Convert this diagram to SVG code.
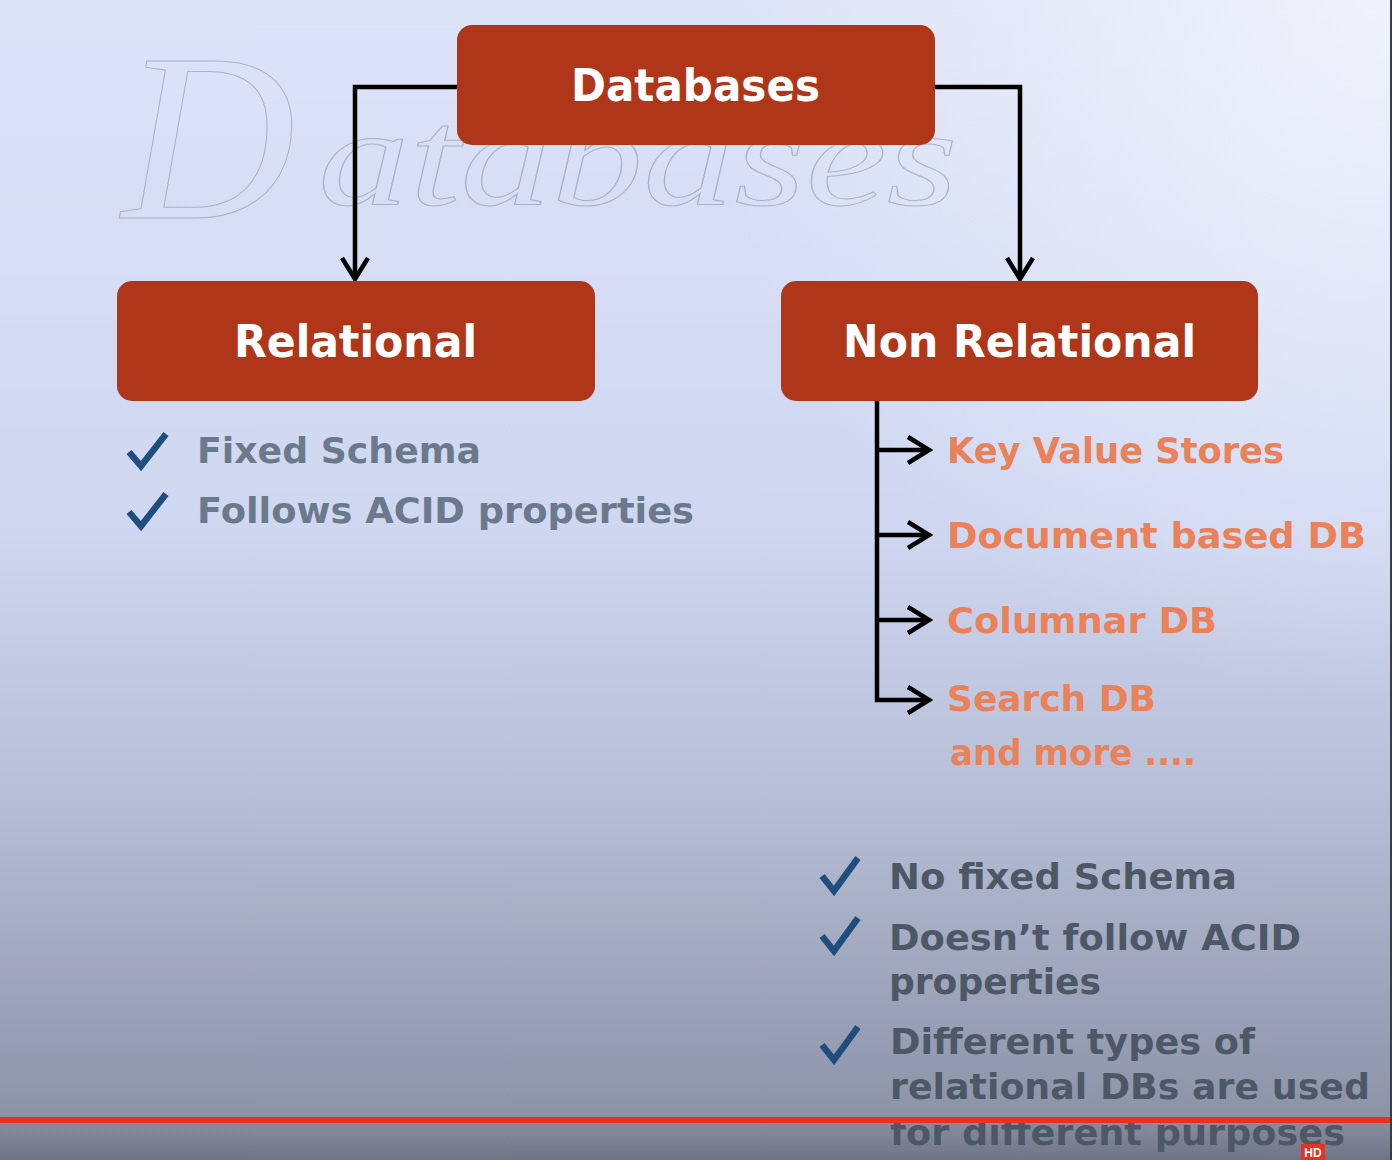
<svg xmlns="http://www.w3.org/2000/svg" width="1392" height="1160" viewBox="0 0 1392 1160">
  <defs>
    <linearGradient id="bg" x1="0" y1="0" x2="0" y2="1">
      <stop offset="0" stop-color="#dde3f7"/>
      <stop offset="0.45" stop-color="#cfd7f1"/>
      <stop offset="0.68" stop-color="#b8c0d8"/>
      <stop offset="0.96" stop-color="#8d94a8"/>
      <stop offset="1" stop-color="#757b8c"/>
    </linearGradient>
    <radialGradient id="glow" cx="1392" cy="0" r="700" gradientUnits="userSpaceOnUse">
      <stop offset="0" stop-color="#eef3fc" stop-opacity="0.95"/>
      <stop offset="1" stop-color="#eef3fc" stop-opacity="0"/>
    </radialGradient>
    <linearGradient id="foot" x1="0" y1="0" x2="0" y2="1">
      <stop offset="0" stop-color="#858b9d"/>
      <stop offset="1" stop-color="#6b7080"/>
    </linearGradient>
    <marker id="chev" viewBox="-26 -16 30 32" refX="0" refY="0" markerWidth="30" markerHeight="32" markerUnits="userSpaceOnUse" orient="auto">
      <path d="M-21,-13 L0,0 L-21,13" fill="none" stroke="#000" stroke-width="4.5"/>
    </marker>
    <style>
      .box { fill: #b0361a; }
      .title { font-family: "DejaVu Sans", "Liberation Sans", sans-serif; font-weight: bold; fill: #ffffff; font-size: 44px; }
      .item { font-family: "DejaVu Sans", "Liberation Sans", sans-serif; font-weight: bold; font-size: 35px; }
      .gray { fill: #6a7a8b; }
      .dark { fill: #4d5867; }
      .orange { fill: #ea8159; }
      .check { fill: none; stroke: #1f4e7e; stroke-width: 6.5; stroke-linejoin: miter; }
      .conn { fill: none; stroke: #000; stroke-width: 4.5; }
      .hand { font-family: "Liberation Serif", serif; font-style: italic; fill: none; stroke: #8a93a6; stroke-width: 1; opacity: 0.6; }
    </style>
  </defs>

  <rect x="0" y="0" width="1392" height="1160" fill="url(#bg)"/>
  <rect x="0" y="0" width="1392" height="1160" fill="url(#glow)"/>

  <!-- faint handwriting in background -->
  <g id="handwriting">
    <text class="hand" x="122" y="218" font-size="240">D</text>
    <text class="hand" x="318" y="205" font-size="140" textLength="640" lengthAdjust="spacingAndGlyphs">atabases</text>
  </g>

  <!-- connectors -->
  <g id="connectors">
    <path class="conn" d="M457,87 H355 V279" marker-end="url(#chev)"/>
    <path class="conn" d="M935,87 H1020 V279" marker-end="url(#chev)"/>
    <path class="conn" d="M877,401 V700 H929" marker-end="url(#chev)"/>
    <path class="conn" d="M877,450 H929" marker-end="url(#chev)"/>
    <path class="conn" d="M877,535 H929" marker-end="url(#chev)"/>
    <path class="conn" d="M877,620 H929" marker-end="url(#chev)"/>
  </g>

  <g id="node-databases">
    <rect class="box" x="457" y="25" width="478" height="120" rx="15"/>
    <text class="title" x="571" y="101" textLength="249" lengthAdjust="spacingAndGlyphs">Databases</text>
  </g>

  <g id="node-relational">
    <rect class="box" x="117" y="281" width="478" height="120" rx="15"/>
    <text class="title" x="234" y="357" textLength="243" lengthAdjust="spacingAndGlyphs">Relational</text>
  </g>

  <g id="node-nonrelational">
    <rect class="box" x="781" y="281" width="477" height="120" rx="15"/>
    <text class="title" x="843" y="357" textLength="353" lengthAdjust="spacingAndGlyphs">Non Relational</text>
  </g>

  <g id="relational-props">
    <path class="check" d="M129,452 L141,466 L166,434"/>
    <text class="item gray" x="197" y="463" textLength="284" lengthAdjust="spacingAndGlyphs">Fixed Schema</text>
    <path class="check" d="M129,512 L141,526 L166,494"/>
    <text class="item gray" x="197" y="523" textLength="497" lengthAdjust="spacingAndGlyphs">Follows ACID properties</text>
  </g>

  <g id="nonrelational-types">
    <text class="item orange" x="947" y="463" textLength="337" lengthAdjust="spacingAndGlyphs">Key Value Stores</text>
    <text class="item orange" x="947" y="548" textLength="419" lengthAdjust="spacingAndGlyphs">Document based DB</text>
    <text class="item orange" x="947" y="633" textLength="270" lengthAdjust="spacingAndGlyphs">Columnar DB</text>
    <text class="item orange" x="947" y="711" textLength="209" lengthAdjust="spacingAndGlyphs">Search DB</text>
    <text class="item orange" x="950" y="765" textLength="246" lengthAdjust="spacingAndGlyphs">and more ....</text>
  </g>

  <g id="nonrelational-props">
    <path class="check" d="M822,876 L834,891 L858,858"/>
    <text class="item dark" x="889" y="889" textLength="348" lengthAdjust="spacingAndGlyphs">No fixed Schema</text>
    <path class="check" d="M822,936 L834,951 L858,918"/>
    <text class="item dark" x="889" y="950" textLength="412" lengthAdjust="spacingAndGlyphs">Doesn’t follow ACID</text>
    <text class="item dark" x="889" y="994" textLength="212" lengthAdjust="spacingAndGlyphs">properties</text>
    <path class="check" d="M822,1045 L834,1060 L858,1027"/>
    <text class="item dark" x="890" y="1054" textLength="365" lengthAdjust="spacingAndGlyphs">Different types of</text>
    <text class="item dark" x="890" y="1099" textLength="480" lengthAdjust="spacingAndGlyphs">relational DBs are used</text>
  </g>

  <!-- video player footer -->
  <rect x="0" y="1123" width="1392" height="37" fill="url(#foot)" opacity="0.55"/>
  <text class="item dark" x="890" y="1145" textLength="455" lengthAdjust="spacingAndGlyphs">for different purposes</text>
  <rect x="0" y="1117" width="1392" height="6" fill="#e8311f"/>
  <rect x="1390" y="0" width="2" height="1160" fill="#3a3d45"/>
  <g id="hd-badge">
    <rect x="1301" y="1144" width="24" height="16" fill="#e8311f"/>
    <text x="1313" y="1157" font-family="Liberation Sans, sans-serif" font-weight="bold" font-size="12" fill="#ffffff" text-anchor="middle">HD</text>
  </g>
</svg>
